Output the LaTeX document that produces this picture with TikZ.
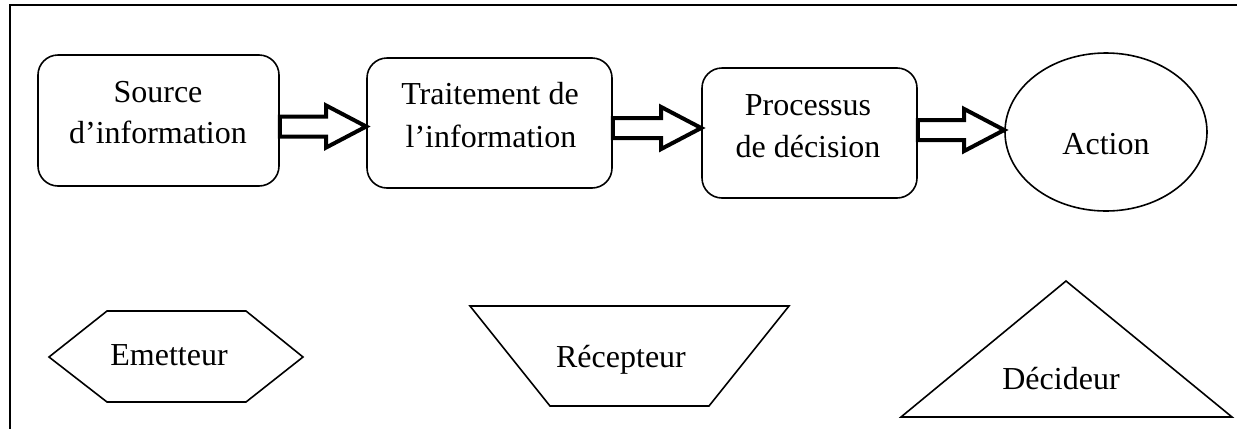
\documentclass[tikz,border=0pt]{standalone}
\usepackage{fontspec}
\setmainfont{Liberation Serif}
\usetikzlibrary{calc,shapes.geometric}
\begin{document}
\begin{tikzpicture}[x=1pt,y=-1pt,
  box/.style={draw,line width=1.6pt,rounded corners=20pt,inner sep=0pt},
  lbl/.style={anchor=base,inner sep=0pt,font=\fontsize{32}{41}\selectfont},
  shp/.style={draw,line width=1.6pt,line join=miter},
  barrow/.style={draw,line width=4pt,fill=white,line join=miter},
  frame/.style={line width=1.8pt}]
\useasboundingbox (0,0) rectangle (1237,429);
% frame
\coordinate (ftl) at (10,5);
\coordinate (ftr) at (1237,5);
\coordinate (fbl) at (10,429);
\draw[frame] (ftr) -- (ftl) -- (fbl);
% boxes
\node[box,minimum width=241pt,minimum height=131pt] (b1) at (158.5,120.5) {};
\node[box,minimum width=245pt,minimum height=130pt] (b2) at (489.5,123) {};
\node[box,minimum width=215pt,minimum height=130pt] (b3) at (809.5,133) {};
\node[draw,line width=1.6pt,ellipse,inner sep=0pt,minimum width=202pt,minimum height=158pt] (act) at (1106,132) {};
% texts
\node[lbl] (t1a) at (158,102) {Source};
\node[lbl] (t1b) at (158,143) {d’information};
\node[lbl] (t2a) at (490,104) {Traitement de};
\node[lbl] (t2b) at (491,147) {l’information};
\node[lbl] (t3a) at (808,115) {Processus};
\node[lbl] (t3b) at (808,157) {de décision};
\node[lbl] (t4) at (1106,154) {Action};
% block arrows
\coordinate (a1s) at (b1.east |- 0,126.5);
\coordinate (a1e) at (b2.west |- 0,126.5);
\coordinate (a2s) at (b2.east |- 0,128);
\coordinate (a2e) at (b3.west |- 0,128);
\coordinate (a3s) at (b3.east |- 0,130);
\coordinate (a3e) at (act.west |- 0,130);
\foreach \s/\e in {a1s/a1e,a2s/a2e,a3s/a3e}{
  \draw[barrow] ($(\s)+(0,-10)$) -- ($(\e)+(-40,-10)$) -- ($(\e)+(-40,-21)$) -- (\e)
    -- ($(\e)+(-40,21)$) -- ($(\e)+(-40,10)$) -- ($(\s)+(0,10)$) -- cycle;
}
% bottom shapes
\draw[shp] (49,357) -- (107,311) -- (246,311) -- (303,357) -- (246,402) -- (107,402) -- cycle;
\node[lbl] (em) at (169,365) {Emetteur};
\draw[shp] (470,306) -- (789,306) -- (709,406) -- (550,406) -- cycle;
\node[lbl] (re) at (621,367) {Récepteur};
\draw[shp] (1066,281) -- (1232,417) -- (901,417) -- cycle;
\node[lbl] (de) at (1061,389) {Décideur};
\end{tikzpicture}
\end{document}
